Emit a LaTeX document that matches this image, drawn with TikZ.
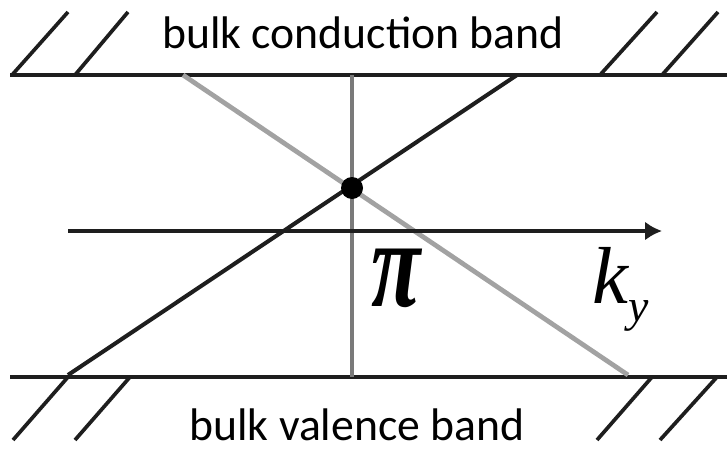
\documentclass[tikz,border=0pt]{standalone}
\usepackage{fontspec}
\setmainfont{Liberation Serif}
\newfontfamily\bandfont{Carlito}
\usepackage{xcolor}
\definecolor{bandline}{HTML}{1E1E1E}
\definecolor{lightline}{HTML}{A2A2A2}
\definecolor{midline}{HTML}{7A7A7A}
\usetikzlibrary{arrows.meta}

\begin{document}
\begin{tikzpicture}[x=0.1mm,y=-0.1mm,
  band/.style={line width=1.15pt,bandline},
  hatch/.style={line width=1.05pt,bandline},
  lbl/.style={font=\bandfont\fontsize{13}{15}\selectfont,inner sep=0pt,anchor=base}]
  \useasboundingbox (0,0) rectangle (727,450);
  % band edges
  \coordinate (cbl) at (10,75);  \coordinate (cbr) at (727,75);
  \coordinate (vbl) at (10,377); \coordinate (vbr) at (727,377);
  \draw[band] (cbl) -- (cbr);
  \draw[band] (vbl) -- (vbr);
  \foreach \a/\b in {12/68,75/128,600/657,662/718} \draw[hatch] (\a,75) -- (\b,12);
  \foreach \a/\b in {68/13,130/75,652/597,717/660} \draw[hatch] (\a,377) -- (\b,440);
  \node[lbl] (cb) at (363,48) {bulk conduction band};
  \node[lbl] (vb) at (357,440) {bulk valence band};
  % surface states
  \coordinate (up0) at (68,375);  \coordinate (up1) at (517,75);
  \coordinate (dn0) at (183,75);  \coordinate (dn1) at (628,375);
  \coordinate (pt) at (352,75);   \coordinate (pb) at (352,377);
  \draw[line width=0.9pt,midline] (pt) -- (pb);
  \draw[line width=1.35pt,lightline] (dn0) -- (dn1);
  \draw[line width=1.15pt,bandline] (up0) -- (up1);
  % k_y axis
  \coordinate (ax0) at (68,231); \coordinate (ax1) at (662,231);
  \draw[line width=1.1pt,bandline,-{Latex[length=1.7mm,width=1.9mm]}] (ax0) -- (ax1);
  \fill (352,188) circle[radius=11] coordinate (dirac);
  \node[font=\fontsize{27}{30}\selectfont\bfseries\itshape,inner sep=0pt] (pi) at (396,278) {\scalebox{0.95}[1.32]{π}};
  \node[font=\fontsize{23}{26}\selectfont\itshape,inner sep=0pt,anchor=base west] (ky) at (592,303)
    {k\raisebox{-5.4pt}{\fontsize{13}{15}\selectfont y}};
\end{tikzpicture}
\end{document}
